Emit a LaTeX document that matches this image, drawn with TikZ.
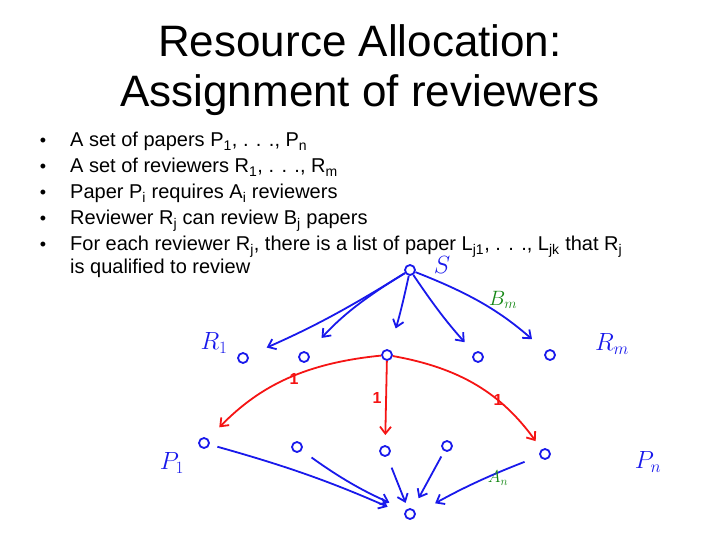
\documentclass[tikz,border=0pt]{standalone}
\usepackage{fontspec}
\setmainfont{Liberation Sans}
\usepackage{xcolor}
\usepackage{tikz}
\usetikzlibrary{arrows.meta,calc}
\definecolor{inkblue}{RGB}{25,25,235}
\definecolor{inkred}{RGB}{245,20,20}
\definecolor{inkgreen}{RGB}{20,135,20}
\newcommand{\lsub}[1]{\textsubscript{#1}}
\begin{document}
\begin{tikzpicture}[x=1pt,y=-1pt,
  vtx/.style={circle,draw=inkblue,line width=1.8pt,minimum size=10pt,inner sep=0pt},
  flow/.style={draw=inkblue,line width=1.8pt,-{Straight Barb[length=7pt,width=11pt]}},
  cut/.style={flow,draw=inkred},
  hand/.style={inkblue,font=\fontsize{26}{26}\selectfont},
  wt/.style={inkred,font=\bfseries\fontsize{16}{16}\selectfont}]

  \useasboundingbox (0,0) rectangle (720,540);

% TITLE
  \node[font=\fontsize{44}{50}\selectfont,anchor=base] (title1) at (360,57) {Resource Allocation:};
  \node[font=\fontsize{44}{50}\selectfont,anchor=base] (title2) at (360,107) {Assignment of reviewers};

% BULLETS
  \foreach \i/\yy/\txt in {1/147/{A set of papers P\lsub{1}, . . ., P\lsub{n}},
                           2/173/{A set of reviewers R\lsub{1}, . . ., R\lsub{m}},
                           3/199/{Paper P\lsub{i} requires A\lsub{i} reviewers},
                           4/225/{Reviewer R\lsub{j} can review B\lsub{j} papers},
                           5/251/{For each reviewer R\lsub{j}, there is a list of paper L\lsub{j1}, . . ., L\lsub{jk} that R\lsub{j}}}
  {
    \node[font=\fontsize{18}{18}\selectfont,anchor=base] (dot\i) at (43,\yy) {\textbullet};
    \node[font=\fontsize{20}{23}\selectfont,anchor=base west,inner xsep=0pt] (item\i) at (70,\yy) {\txt};
  }
  \node[font=\fontsize{20}{23}\selectfont,anchor=base west,inner xsep=0pt] (item6) at (70,273) {is qualified to review};

% SOURCE AND SINK
  \node[vtx] (s) at (410,270) {};
  \node[hand] (slbl) at (442,265) {$S$};
  \node[vtx] (t) at (410,514) {};

% REVIEWERS
  \foreach \i/\x/\y in {1/243/358, 2/304/357, 3/387/355, 4/478/357, 5/550/355}
      \node[vtx] (r\i) at (\x,\y) {};
  \node[hand] (r1lbl) at (214,343) {$R_1$};
  \node[hand] (rmlbl) at (612,344) {$R_m$};

% PAPERS
  \foreach \i/\x/\y in {1/204/443, 2/297/447, 3/385/451, 4/447/446, 5/545/454}
      \node[vtx] (p\i) at (\x,\y) {};
  \node[hand] (p1lbl) at (172,463) {$P_1$};
  \node[hand] (pnlbl) at (648,462) {$P_n$};

% S TO REVIEWERS
  \draw[flow,shorten >=20pt] (s) to[bend left=4] (r1);
  \draw[flow,shorten >=20pt] (s) to[bend right=8] (r2);
  \draw[flow,shorten >=22pt] (s) to[bend left=3] (r3);
  \draw[flow,shorten >=14pt] (s) to[bend right=4] (r4);
  \draw[flow,shorten >=18pt] (s) to[bend left=10] (r5);
  \node[inkgreen,font=\fontsize{22}{22}\selectfont] (bm) at (503,300) {$B_m$};

% REVIEWER TO PAPERS
  \draw[cut,shorten >=16pt] (r3) to[bend right=20] (p1);
  \draw[cut,shorten >=10pt] (r3) -- (p3);
  \draw[cut,shorten >=10pt] (r3) to[bend left=22] (p5);
  \node[wt] (w1) at (294,379) {1};
  \node[wt] (w2) at (377,398) {1};
  \node[wt] (w3) at (498,400) {1};

% PAPERS TO SINK
  \draw[flow,shorten <=8pt,shorten >=18pt] (p1) to[bend left=4] (t.west);
  \draw[flow,shorten <=12pt,shorten >=18pt] (p2) to[bend right=6] (t.north west);
  \draw[flow,shorten <=12pt,shorten >=6pt] (p3) -- (t);
  \draw[flow,shorten <=6pt,shorten >=12pt] (p4) -- (t);
  \draw[flow,shorten <=16pt,shorten >=22pt] (p5) to[bend right=4] (t.east);
  \node[inkgreen,font=\fontsize{17}{17}\selectfont] (an) at (498,478) {$A_n$};
\end{tikzpicture}
\end{document}
